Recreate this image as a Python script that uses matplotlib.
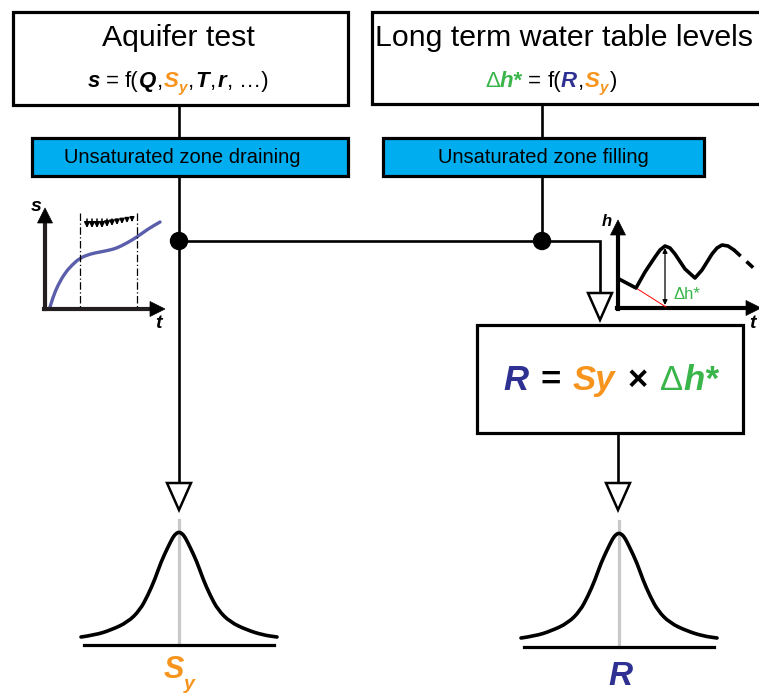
import matplotlib
matplotlib.use('Agg')
import matplotlib.pyplot as plt
from matplotlib.patches import Rectangle, Polygon, Circle, PathPatch
from matplotlib.path import Path

plt.rcParams['font.family'] = ['Liberation Sans', 'DejaVu Sans']

ORANGE = '#F7941D'
NAVY = '#2E3192'
GREEN = '#39B54A'
CYAN = '#00AEEF'
PURPLE = '#5B5EAA'

# ---- values (pixel units, y pointing down) ----
titles = ['Aquifer test', 'Long term water table levels']
zones = ['Unsaturated zone draining', 'Unsaturated zone filling']

# aquifer test inset: drawdown s against time t
s_t = [50, 53, 58, 65, 72, 80, 90, 100, 110, 117, 127, 137, 148, 160]
s_s = [307, 297, 285, 273, 265, 258, 254, 252, 250, 248, 243, 237, 229, 222]
drain_x = [87, 92, 97, 102, 107, 112, 117, 122, 127, 132]
drain_len = [9, 9, 9, 9, 8, 7, 6, 5, 4, 3]

# water table inset: head h against time t
h_t = [619, 636, 645, 655, 660, 665, 670, 675, 685, 695, 702, 712, 717, 722, 728, 734]
h_h = [279, 288, 272, 257, 250, 246, 248, 254, 269, 278, 270, 254, 248, 245, 246, 250]
h_tail_t = [734, 759]
h_tail_h = [250, 273]

# bell curves: left half profile, relative to the peak
bell_dx = [-98, -84, -68, -51, -39, -31, -24, -18, -11, -6, -3, 0]
bell_dy = [105, 103, 98, 90, 78, 63, 47, 30, 15, 5, 1.5, 0]


def rich(ax, x, y, parts, ha='center'):
    # lay out coloured pieces of text one after the other on a baseline
    rend = ax.figure.canvas.get_renderer()
    items = []
    for txt, color, size, face, dy, gap in parts:
        t = ax.text(0, y + dy, txt, color=color, fontsize=size,
                    fontweight='bold' if 'b' in face else 'normal',
                    fontstyle='italic' if 'i' in face else 'normal',
                    ha='left', va='baseline')
        items.append((t, t.get_window_extent(rend).width, gap))
    total = sum(w + g for _, w, g in items) - items[-1][2]
    cur = x - total / 2 if ha == 'center' else x
    for t, w, g in items:
        t.set_x(cur)
        cur += w + g


def smooth(ax, xs, ys, **kw):
    # quadratic bezier through the midpoints, read points as control points
    pts = list(zip(xs, ys))
    verts = [pts[0]]
    codes = [Path.MOVETO]
    for i in range(1, len(pts) - 1):
        mid = ((pts[i][0] + pts[i + 1][0]) / 2, (pts[i][1] + pts[i + 1][1]) / 2)
        verts += [pts[i], mid]
        codes += [Path.CURVE3, Path.CURVE3]
    verts.append(pts[-1])
    codes.append(Path.LINETO)
    ax.add_patch(PathPatch(Path(verts, codes), fill=False, **kw))


def open_arrow(ax, x, y0, y1):
    ax.plot([x, x], [y0, y1], color='k', lw=1.9, solid_capstyle='butt')
    ax.add_patch(Polygon([[x - 12, y1], [x + 12, y1], [x, y1 + 27]],
                         closed=True, fc='white', ec='k', lw=1.8, zorder=3))


def head(ax, tip, direction, size=15, width=15):
    x, y = tip
    if direction == 'up':
        pts = [[x, y], [x - width / 2, y + size], [x + width / 2, y + size]]
    else:
        pts = [[x, y], [x - size, y - width / 2], [x - size, y + width / 2]]
    ax.add_patch(Polygon(pts, closed=True, fc='k', ec='k', lw=0.5, zorder=4))


def bell(ax, cx, top, base_y, x0, x1):
    xs = [cx + d for d in bell_dx] + [cx - d for d in bell_dx[::-1][1:]]
    ys = [top + d for d in bell_dy] + [top + d for d in bell_dy[::-1][1:]]
    ax.plot([cx, cx], [top - 12, base_y], color='#C8C8C8', lw=2.3, zorder=1)
    smooth(ax, xs, ys, ec='k', lw=2.6, zorder=2, capstyle='round')
    ax.plot([x0, x1], [base_y, base_y], color='k', lw=2.3, zorder=2)


fig = plt.figure(figsize=(7.59, 6.95), dpi=100)
ax = fig.add_axes([0, 0, 1, 1])
ax.set_xlim(0, 759)
ax.set_ylim(695, 0)
ax.axis('off')

# top boxes
ax.add_patch(Rectangle((13, 12), 335, 93, fc='white', ec='k', lw=2.3))
ax.add_patch(Rectangle((372, 12), 420, 92, fc='white', ec='k', lw=2.3))
ax.text(178, 46, titles[0], fontsize=21.8, ha='center', va='baseline')
ax.text(375, 46, titles[1], fontsize=21.8, ha='left', va='baseline')

rich(ax, 178, 87, [
    ('s', 'k', 16, 'bi', 0, 6), ('=', 'k', 16, 'n', 0, 6),
    ('f(', 'k', 16, 'n', 0, 0), ('Q', 'k', 16, 'bi', 0, 1),
    (',', 'k', 16, 'n', 0, 1), ('S', ORANGE, 16, 'bi', 0, 0),
    ('y', ORANGE, 11, 'bi', 5, 1), (',', 'k', 16, 'n', 0, 1),
    ('T', 'k', 16, 'bi', 0, 1), (',', 'k', 16, 'n', 0, 1),
    ('r', 'k', 16, 'bi', 0, 1), (',', 'k', 16, 'n', 0, 6),
    ('…)', 'k', 16, 'n', 0, 0)])
rich(ax, 551, 87, [
    ('Δ', GREEN, 16, 'n', 0, 0), ('h*', GREEN, 16, 'bi', 0, 6),
    ('=', 'k', 16, 'n', 0, 6), ('f(', 'k', 16, 'n', 0, 0),
    ('R', NAVY, 16, 'bi', 0, 1), (',', 'k', 16, 'n', 0, 1),
    ('S', ORANGE, 16, 'bi', 0, 0), ('y', ORANGE, 11, 'bi', 5, 1),
    (')', 'k', 16, 'n', 0, 0)])

# unsaturated zone boxes
ax.add_patch(Rectangle((32, 138), 316, 38, fc=CYAN, ec='k', lw=2.3))
ax.add_patch(Rectangle((383, 138), 321, 38, fc=CYAN, ec='k', lw=2.3))
ax.text(182, 163, zones[0], fontsize=14.5, ha='center', va='baseline')
ax.text(543, 163, zones[1], fontsize=14.5, ha='center', va='baseline')

# connectors
ax.plot([179, 179], [105, 138], color='k', lw=1.9)
ax.plot([542, 542], [104, 138], color='k', lw=1.9)
ax.plot([542, 542], [176, 241], color='k', lw=1.9)
ax.plot([179, 600, 600], [241, 241, 293], color='k', lw=1.9,
        solid_joinstyle='miter')
ax.add_patch(Polygon([[588, 293], [612, 293], [600, 320]], closed=True,
                     fc='white', ec='k', lw=1.8, zorder=3))
open_arrow(ax, 179, 176, 483)
ax.add_patch(Circle((179, 241), 8.5, fc='k', ec='k', zorder=5))
ax.add_patch(Circle((542, 241), 8.5, fc='k', ec='k', zorder=5))

# result box
ax.add_patch(Rectangle((477, 325), 266, 108, fc='white', ec='k', lw=2.3))
rich(ax, 611, 390, [
    ('R', NAVY, 25, 'bi', 0, 12), ('=', 'k', 25, 'b', 0, 12),
    ('Sy', ORANGE, 25, 'bi', 0, 12), ('×', 'k', 25, 'b', 0, 12),
    ('Δ', GREEN, 25, 'n', 0, 1), ('h*', GREEN, 25, 'bi', 0, 0)])
open_arrow(ax, 618, 433, 483)

# aquifer test inset
ax.plot([45, 45], [309, 222], color='#231F20', lw=3)
ax.plot([44, 150], [309, 309], color='#231F20', lw=3)
head(ax, (45, 208), 'up')
head(ax, (165, 309), 'right')
for xv in (80, 137):
    ax.plot([xv, xv], [213, 308], color='k', lw=0.9, ls=(0, (6, 2, 1, 2)))
for xv, ln in zip(drain_x, drain_len):
    ax.annotate('', xy=(xv, 219 + ln), xytext=(xv, 219),
                arrowprops=dict(arrowstyle='-|>', lw=1.1, color='k',
                                mutation_scale=5.5 + ln * 0.3,
                                shrinkA=0, shrinkB=0))
smooth(ax, s_t, s_s, ec=PURPLE, lw=2.4, capstyle='round')
ax.text(36, 211, 's', fontsize=14, fontweight='bold', fontstyle='italic',
        ha='center', va='baseline')
ax.text(158, 328, 't', fontsize=14, fontweight='bold', fontstyle='italic',
        ha='center', va='baseline')

# water table inset
ax.plot([618, 618], [309, 234], color='k', lw=3)
ax.plot([617, 746], [308, 308], color='k', lw=3)
head(ax, (618, 220), 'up')
head(ax, (761, 308), 'right')
ax.plot([636, 666], [288, 307], color='red', lw=0.7)
ax.plot(h_t, h_h, color='k', lw=2.6, solid_joinstyle='round',
        solid_capstyle='round')
ax.plot(h_tail_t, h_tail_h, color='k', lw=2.6, ls=(0, (2.5, 2.2)))
ax.annotate('', xy=(665, 248), xytext=(665, 305),
            arrowprops=dict(arrowstyle='<|-|>', lw=0.9, color='k',
                            mutation_scale=7, shrinkA=0, shrinkB=0))
ax.text(673, 299, 'Δh*', color=GREEN, fontsize=12, ha='left', va='baseline')
ax.text(607, 226, 'h', fontsize=12, fontweight='bold', fontstyle='italic',
        ha='center', va='baseline')
ax.text(752, 328, 't', fontsize=14, fontweight='bold', fontstyle='italic',
        ha='center', va='baseline')

# distributions
bell(ax, 179, 532, 645, 84, 274)
bell(ax, 619, 533, 647, 524, 714)
rich(ax, 179, 678, [('S', ORANGE, 22, 'bi', 0, 0),
                    ('y', ORANGE, 14, 'bi', 11, 0)])
rich(ax, 620, 685, [('R', NAVY, 24, 'bi', 0, 0)])

fig.savefig('out.png', dpi=100)
